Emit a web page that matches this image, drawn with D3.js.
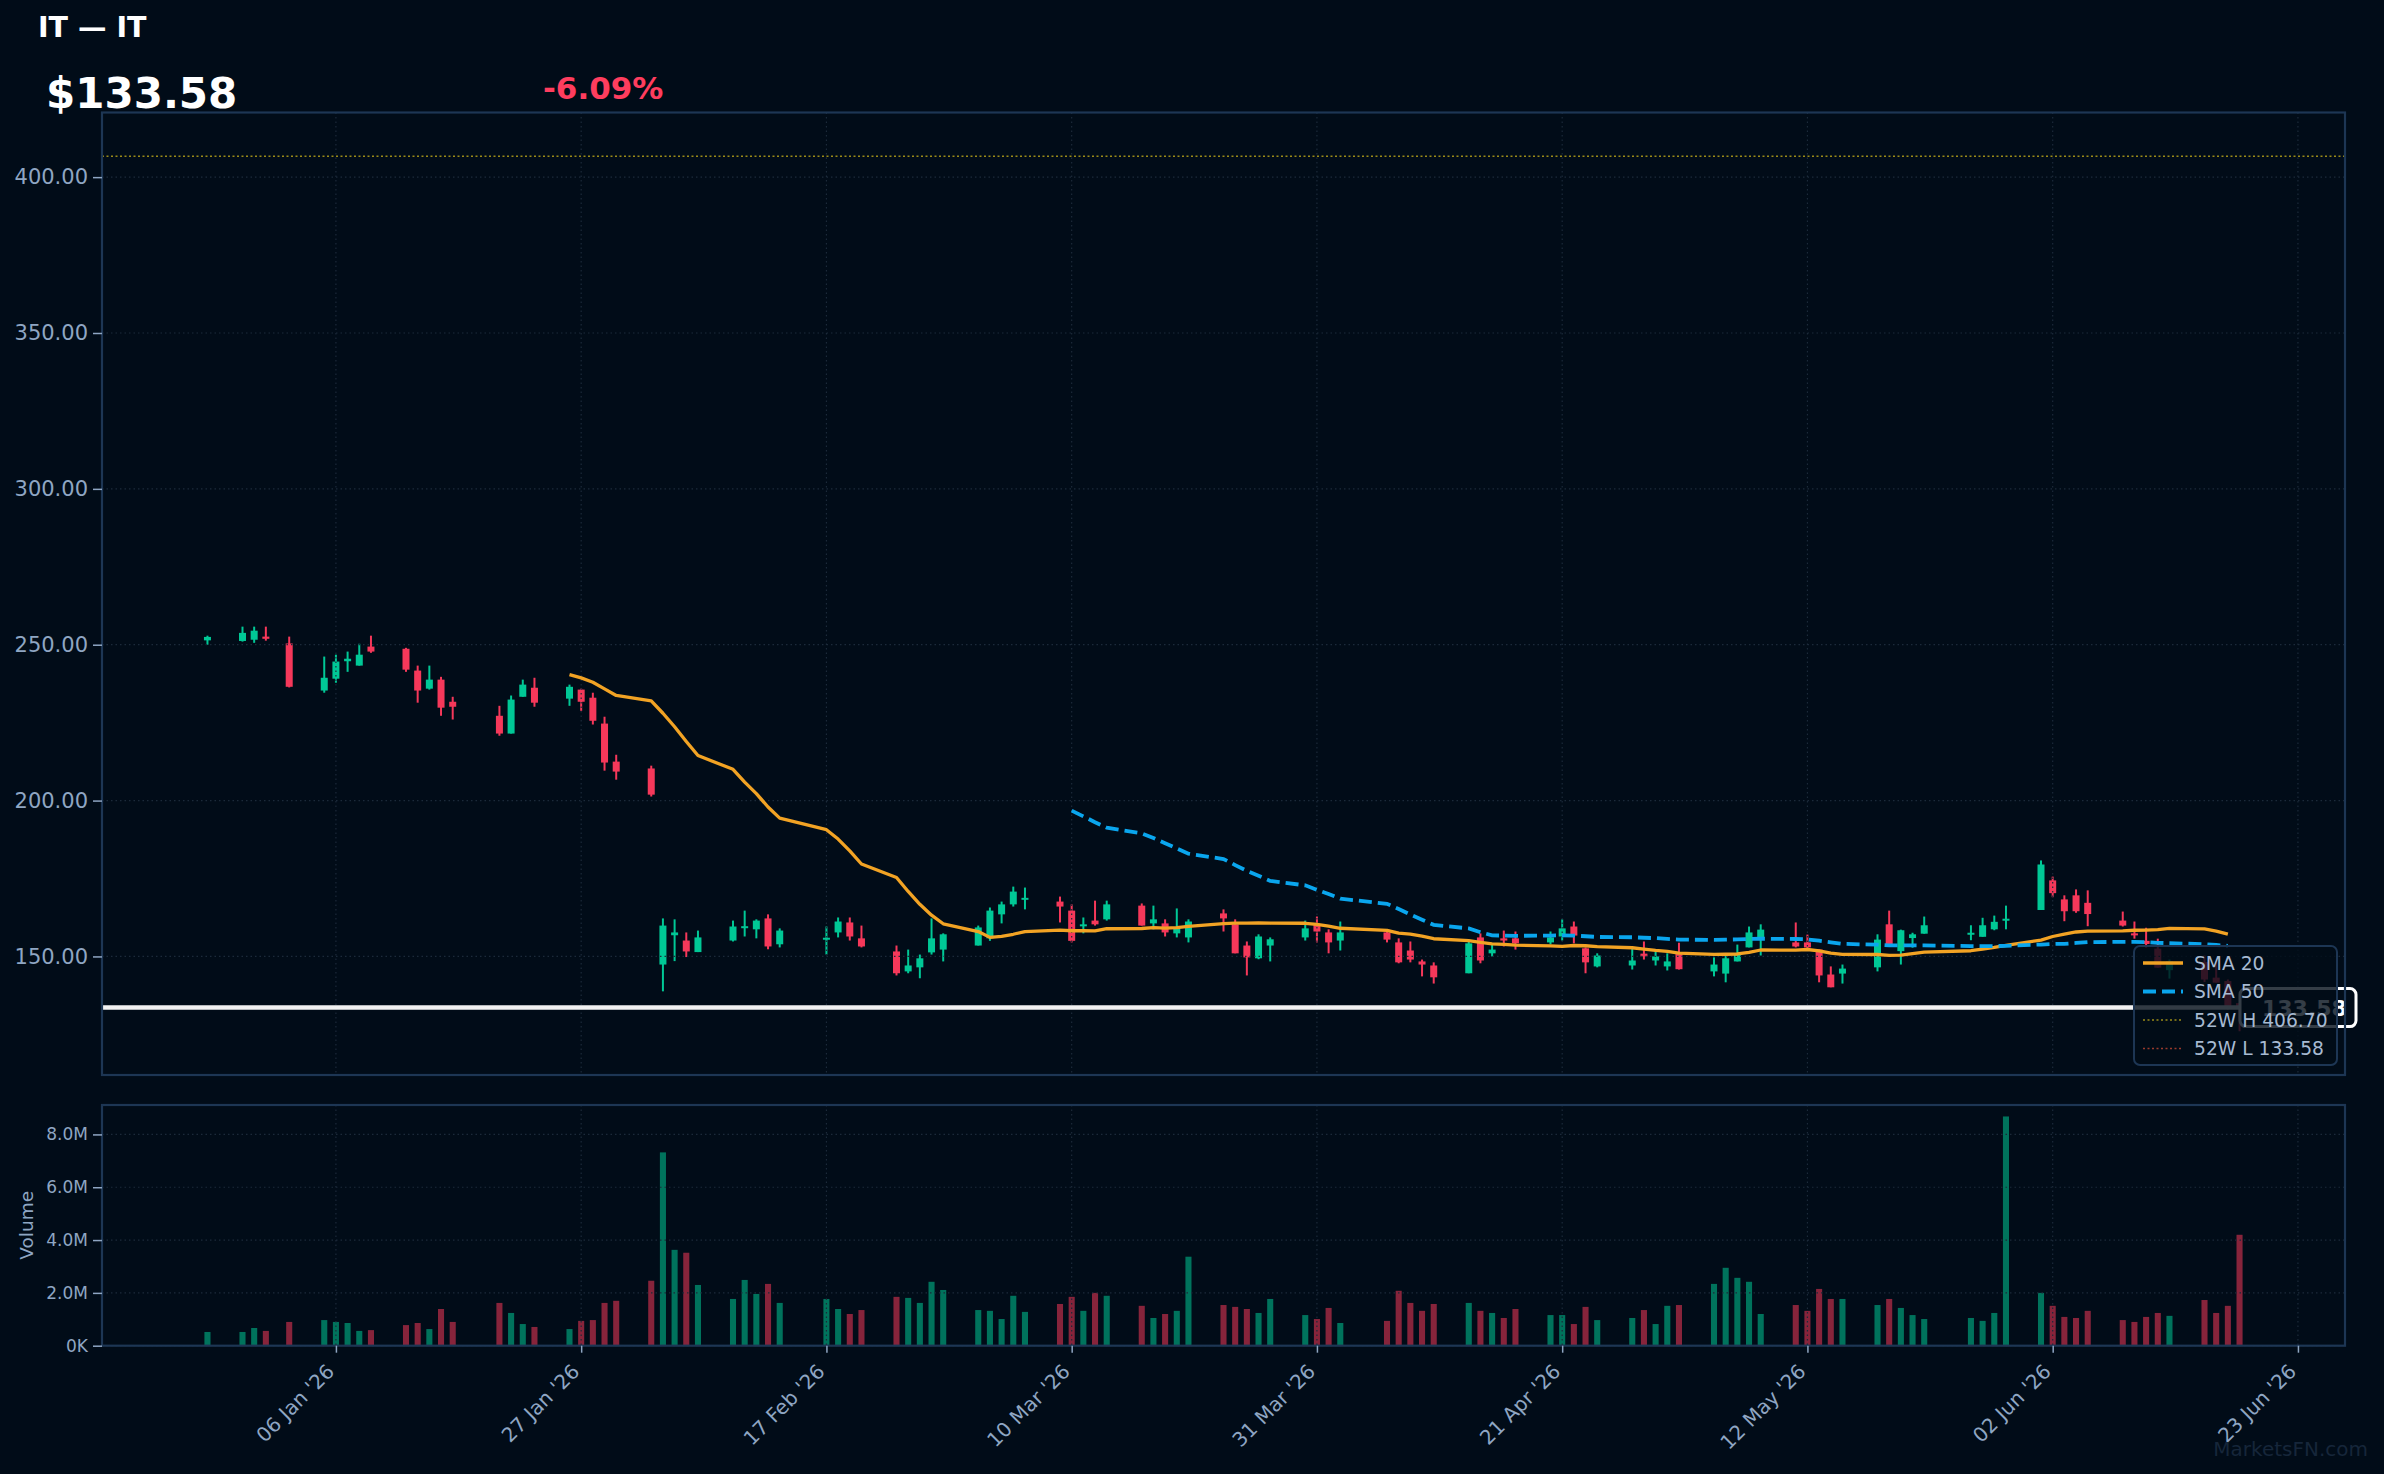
<!DOCTYPE html>
<html>
<head>
<meta charset="utf-8">
<script src="https://cdn.jsdelivr.net/npm/d3@7"></script>
<style>
    body { margin: 0; background: #010c18; }
    svg text { font-family: "DejaVu Sans", sans-serif; }
</style>
</head>
<body>
<svg id="chart" width="2384" height="1474"></svg>
<script>
// ---- data ----
const dates = ["2025-12-26","2025-12-29","2025-12-30","2025-12-31","2026-01-02",
    "2026-01-05","2026-01-06","2026-01-07","2026-01-08","2026-01-09",
    "2026-01-12","2026-01-13","2026-01-14","2026-01-15","2026-01-16",
    "2026-01-20","2026-01-21","2026-01-22","2026-01-23",
    "2026-01-26","2026-01-27","2026-01-28","2026-01-29","2026-01-30",
    "2026-02-02","2026-02-03","2026-02-04","2026-02-05","2026-02-06",
    "2026-02-09","2026-02-10","2026-02-11","2026-02-12","2026-02-13",
    "2026-02-17","2026-02-18","2026-02-19","2026-02-20",
    "2026-02-23","2026-02-24","2026-02-25","2026-02-26","2026-02-27",
    "2026-03-02","2026-03-03","2026-03-04","2026-03-05","2026-03-06",
    "2026-03-09","2026-03-10","2026-03-11","2026-03-12","2026-03-13",
    "2026-03-16","2026-03-17","2026-03-18","2026-03-19","2026-03-20",
    "2026-03-23","2026-03-24","2026-03-25","2026-03-26","2026-03-27",
    "2026-03-30","2026-03-31","2026-04-01","2026-04-02",
    "2026-04-06","2026-04-07","2026-04-08","2026-04-09","2026-04-10",
    "2026-04-13","2026-04-14","2026-04-15","2026-04-16","2026-04-17",
    "2026-04-20","2026-04-21","2026-04-22","2026-04-23","2026-04-24",
    "2026-04-27","2026-04-28","2026-04-29","2026-04-30","2026-05-01",
    "2026-05-04","2026-05-05","2026-05-06","2026-05-07","2026-05-08",
    "2026-05-11","2026-05-12","2026-05-13","2026-05-14","2026-05-15",
    "2026-05-18","2026-05-19","2026-05-20","2026-05-21","2026-05-22",
    "2026-05-26","2026-05-27","2026-05-28","2026-05-29",
    "2026-06-01","2026-06-02","2026-06-03","2026-06-04","2026-06-05",
    "2026-06-08","2026-06-09","2026-06-10","2026-06-11","2026-06-12",
    "2026-06-15","2026-06-16","2026-06-17","2026-06-18"];

const opens = [251.4,251.2,251.6,252.6,250.4, 235.3,239.1,244.7,243.3,249.4,
    248.7,241.7,235.9,238.8,231.7, 227.2,221.5,233.3,236.2, 232.7,235.6,233.0,224.7,212.5,
    210.3,147.4,156.8,155.1,151.4, 155.1,159.5,158.7,162.2,153.9, 155.7,157.7,160.9,155.8,
    151.6,145.2,146.5,151.3,152.2, 153.5,155.8,163.5,166.7,168.6, 167.6,164.7,160.0,161.5,161.9,
    166.3,160.6,160.6,157.4,156.1, 163.8,160.3,153.5,149.4,153.5, 156.1,160.3,157.7,155.1,
    157.7,154.5,151.9,148.4,147.1, 144.6,156.1,151.0,155.8,155.8, 154.5,156.4,159.6,152.6,146.8,
    147.1,150.9,148.7,146.8,151.0, 145.2,144.5,148.4,152.9,156.1, 154.5,154.5,152.2,144.2,144.5,
    146.5,160.3,151.7,155.9,157.3, 157.3,156.3,158.7,161.8, 164.9,174.4,168.3,169.6,167.2,
    161.5,157.4,155.0,152.5,145.6, 148.2,143.2,142.1,135.0];

const highs = [252.9,255.8,255.8,255.8,252.6, 246.2,246.8,247.8,250.3,252.9,
    249.0,243.3,243.3,239.7,233.3, 230.4,233.7,238.8,239.4, 237.2,235.9,234.6,226.9,214.7,
    211.2,162.2,161.9,157.7,158.3, 161.5,164.7,161.9,163.5,159.0, 159.6,162.5,162.5,159.9,
    153.5,152.2,150.6,162.2,157.4, 159.9,165.7,167.6,172.4,172.1, 169.2,166.7,162.5,167.9,167.9,
    167.0,166.3,161.9,165.4,161.9, 165.1,161.9,154.8,157.1,156.1, 161.5,162.8,158.7,161.2,
    158.3,155.8,154.8,149.0,148.1, 154.8,157.4,153.9,158.3,158.0, 158.0,161.9,161.2,152.9,151.0,
    152.9,154.8,151.9,151.0,154.4, 149.7,150.3,153.8,159.6,160.3, 160.9,157.0,152.2,146.8,147.4,
    157.1,164.7,158.6,157.6,162.8, 160.0,162.4,163.1,166.3, 180.8,175.6,169.6,171.5,171.2,
    164.4,161.2,159.2,155.7,149.0, 150.3,148.5,142.6,135.1];

const lows = [250.0,251.0,250.6,251.3,236.3, 234.6,237.8,241.3,243.3,247.4,
    241.3,231.4,235.6,227.2,226.0, 220.8,221.5,233.3,230.1, 230.4,228.8,224.4,209.6,206.7,
    201.3,138.8,148.5,149.8,151.4, 154.8,156.4,155.8,152.3,152.9, 150.6,156.1,155.1,152.9,
    143.9,144.6,143.0,150.6,148.4, 153.5,155.0,160.6,166.0,165.1, 160.9,154.5,157.4,159.9,161.5,
    159.9,158.7,156.4,156.1,154.5, 158.0,151.0,143.9,149.1,148.4, 155.1,154.5,151.0,151.9,
    154.5,147.8,148.1,143.6,141.3, 144.6,147.8,150.0,153.2,152.2, 153.9,155.1,154.2,144.6,146.5,
    145.8,149.0,147.1,145.5,145.8, 143.6,141.7,148.4,152.9,150.3, 152.9,151.9,141.7,140.1,141.3,
    145.2,153.8,147.4,152.8,157.3, 155.2,156.3,158.4,158.7, 164.9,169.0,161.3,164.0,159.7,
    159.6,155.7,152.8,146.4,142.9, 141.8,141.6,133.0,126.0];

const closes = [252.5,253.8,254.5,251.9,236.5, 239.4,244.6,245.5,246.8,247.8,
    242.0,235.3,238.8,229.8,230.1, 221.5,232.4,237.2,231.4, 236.5,231.7,225.6,212.2,209.3,
    201.9,159.9,157.7,151.6,156.1, 159.6,159.7,161.5,153.2,158.3, 156.0,161.2,156.4,153.2,
    144.6,147.1,149.4,155.8,157.1, 159.3,164.7,166.7,170.8,168.8, 166.0,155.0,160.3,160.3,166.7,
    159.9,161.9,157.7,159.0,161.2, 162.2,151.0,149.7,156.4,155.5, 159.0,158.0,154.5,157.7,
    155.4,148.1,149.0,147.4,143.3, 154.2,148.7,152.2,155.1,154.2, 156.1,159.0,156.7,148.1,150.3,
    148.7,150.0,150.0,148.4,145.9, 147.4,149.4,150.6,157.7,158.6, 153.2,152.9,143.9,140.1,146.1,
    155.4,153.9,158.4,157.1,160.0, 157.6,160.0,161.1,162.1, 179.5,170.3,164.5,164.5,163.6,
    159.9,157.2,154.0,146.4,148.5, 142.6,141.6,134.1,133.58];

// volume in millions of shares
const volumes = [0.52,0.52,0.67,0.56,0.90, 0.97,0.90,0.86,0.56,0.59,
    0.78,0.86,0.63,1.39,0.90, 1.62,1.24,0.82,0.71, 0.63,0.94,0.97,1.62,1.70,
    2.46,7.32,3.63,3.52,2.30, 1.77,2.49,1.96,2.34,1.62, 1.77,1.39,1.20,1.35,
    1.85,1.81,1.62,2.42,2.11, 1.35,1.32,1.01,1.89,1.28, 1.58,1.85,1.32,2.00,1.89,
    1.51,1.05,1.20,1.32,3.37, 1.54,1.47,1.39,1.24,1.77, 1.16,1.01,1.43,0.86,
    0.94,2.08,1.62,1.32,1.58, 1.62,1.32,1.24,1.05,1.39, 1.16,1.16,0.82,1.47,0.97,
    1.05,1.35,0.82,1.51,1.54, 2.34,2.95,2.57,2.42,1.20, 1.54,1.32,2.15,1.77,1.77,
    1.54,1.77,1.43,1.16,1.01, 1.05,0.94,1.24,8.68, 2.00,1.51,1.09,1.05,1.32,
    0.97,0.90,1.09,1.24,1.13, 1.73,1.24,1.51,4.20];

const xTickDates = ["2026-01-06","2026-01-27","2026-02-17","2026-03-10","2026-03-31",
    "2026-04-21","2026-05-12","2026-06-02","2026-06-23"];
const priceTicks = [150, 200, 250, 300, 350, 400];
const volumeTicks = [0, 2, 4, 6, 8];

const ticker = "IT";
const lastPrice = 133.58;
const changePct = -6.09;
const high52 = 406.70;
const low52 = 133.58;

// ---- layout / style ----
const BG = "#010c18";
const UP = "#00c896";
const DOWN = "#f5385a";
const AXIS_TXT = "#8fa6c3";
const SPINE = "#1d3654";
const GRID = "#1c2a3a";
const main = { left: 102, right: 2345, top: 112.5, bottom: 1075 };
const vol = { left: 102, right: 2345, top: 1105, bottom: 1345.7 };

const parse = d3.utcParse("%Y-%m-%d");
const DAY = 864e5;

const rows = dates.map((d, i) => ({
    date: parse(d), open: opens[i], high: highs[i], low: lows[i],
    close: closes[i], vol: volumes[i]
}));

// simple moving averages of the closes
function sma(period) {
    return closes.map((c, i) => i < period - 1 ? null
        : d3.mean(closes.slice(i - period + 1, i + 1)));
}
const sma20 = sma(20);
const sma50 = sma(50);

// ---- scales ----
const t0 = +rows[0].date - 0.3 * DAY;
const t1 = +rows[rows.length - 1].date + 0.3 * DAY;
const padX = (t1 - t0) * 0.05;
const x = d3.scaleUtc()
    .domain([t0 - padX, t1 + padX])
    .range([main.left, main.right]);

const lo = Math.min(d3.min(lows), low52);
const hi = Math.max(d3.max(highs), high52);
const padY = (hi - lo) * 0.05;
const y = d3.scaleLinear()
    .domain([lo - padY, hi + padY])
    .range([main.bottom, main.top]);

const yv = d3.scaleLinear()
    .domain([0, d3.max(volumes) * 1.05])
    .range([vol.bottom, vol.top]);

const pxPerDay = DAY * (x.range()[1] - x.range()[0]) / (x.domain()[1] - x.domain()[0]);
const bodyW = 0.6 * pxPerDay;
const volW = 0.52 * pxPerDay;

const svg = d3.select("#chart");
svg.append("rect").attr("width", 2384).attr("height", 1474).attr("fill", BG);

// ---- grids ----
function grid(g, panel, yScale, ticks) {
    g.selectAll(".hg").data(ticks).join("line")
        .attr("x1", panel.left).attr("x2", panel.right)
        .attr("y1", d => yScale(d)).attr("y2", d => yScale(d))
        .attr("stroke", GRID).attr("stroke-width", 1.2).attr("stroke-dasharray", "1.5,3");
    g.selectAll(".vg").data(xTickDates.map(parse)).join("line")
        .attr("x1", d => x(d)).attr("x2", d => x(d))
        .attr("y1", panel.top).attr("y2", panel.bottom)
        .attr("stroke", GRID).attr("stroke-width", 1.2).attr("stroke-dasharray", "1.5,3");
}

// volume panel
const gv = svg.append("g");
gv.selectAll("rect.v").data(rows).join("rect")
    .attr("x", d => x(d.date) - volW / 2)
    .attr("width", volW)
    .attr("y", d => yv(d.vol))
    .attr("height", d => yv(0) - yv(d.vol))
    .attr("fill", d => d.close >= d.open ? UP : DOWN)
    .attr("fill-opacity", 0.55);
grid(gv.append("g"), vol, yv, volumeTicks);

// ---- candles ----
const gc = svg.append("g");
gc.selectAll("line.wick").data(rows).join("line")
    .attr("x1", d => x(d.date)).attr("x2", d => x(d.date))
    .attr("y1", d => y(d.high)).attr("y2", d => y(d.low))
    .attr("stroke", d => d.close >= d.open ? UP : DOWN)
    .attr("stroke-width", 2);
gc.selectAll("rect.body").data(rows).join("rect")
    .attr("x", d => x(d.date) - bodyW / 2)
    .attr("width", bodyW)
    .attr("y", d => y(Math.max(d.open, d.close)))
    .attr("height", d => Math.max(2, Math.abs(y(d.open) - y(d.close))))
    .attr("fill", d => d.close >= d.open ? UP : DOWN);
grid(svg.append("g"), main, y, priceTicks);

// ---- moving averages (drawn up to the previous session) ----
const lastIdx = rows.length - 2;
const maLine = arr => d3.line()
    .defined((d, i) => arr[i] !== null && i <= lastIdx)
    .x(d => x(d.date))
    .y((d, i) => y(arr[i]));

svg.append("path").datum(rows)
    .attr("d", maLine(sma20))
    .attr("fill", "none").attr("stroke", "#f2a324").attr("stroke-width", 3.3)
    .attr("stroke-linejoin", "round");
svg.append("path").datum(rows)
    .attr("d", maLine(sma50))
    .attr("fill", "none").attr("stroke", "#0aa6ee").attr("stroke-width", 3.8)
    .attr("stroke-dasharray", "13,6");

// 52 week lines
svg.append("line")
    .attr("x1", main.left).attr("x2", main.right)
    .attr("y1", y(high52)).attr("y2", y(high52))
    .attr("stroke", "#9a8a18").attr("stroke-width", 1.6).attr("stroke-dasharray", "2,2.5");
svg.append("line")
    .attr("x1", main.left).attr("x2", main.right)
    .attr("y1", y(low52)).attr("y2", y(low52))
    .attr("stroke", "#9a3a2c").attr("stroke-width", 1.6).attr("stroke-dasharray", "2,2.5");

// last price line
svg.append("line")
    .attr("x1", main.left).attr("x2", main.right)
    .attr("y1", y(lastPrice)).attr("y2", y(lastPrice))
    .attr("stroke", "#f2f2f2").attr("stroke-width", 4.5);

// last price tag on the right
const tag = svg.append("g");
tag.append("rect")
    .attr("x", 2240).attr("y", y(lastPrice) - 19)
    .attr("width", 116).attr("height", 38).attr("rx", 6)
    .attr("fill", BG).attr("stroke", "#ffffff").attr("stroke-width", 3);
tag.append("text")
    .attr("x", 2262).attr("y", y(lastPrice) + 8)
    .attr("fill", "#ffffff").attr("font-size", 22).attr("font-weight", "bold")
    .text(lastPrice.toFixed(2));

// ---- panel frames ----
[main, vol].forEach(p => {
    svg.append("rect")
        .attr("x", p.left).attr("y", p.top)
        .attr("width", p.right - p.left).attr("height", p.bottom - p.top)
        .attr("fill", "none").attr("stroke", SPINE).attr("stroke-width", 2.2);
});

// ---- axes ----
function styleAxis(g, size) {
    g.select(".domain").remove();
    g.selectAll("line").attr("stroke", AXIS_TXT).attr("stroke-width", 1.5);
    g.selectAll("text").attr("fill", AXIS_TXT).attr("font-size", size)
        .attr("font-family", "DejaVu Sans");
}

svg.append("g")
    .attr("transform", `translate(${main.left},0)`)
    .call(d3.axisLeft(y).tickValues(priceTicks).tickFormat(d3.format(".2f"))
        .tickSize(9).tickPadding(5))
    .call(g => styleAxis(g, 21));

svg.append("g")
    .attr("transform", `translate(${vol.left},0)`)
    .call(d3.axisLeft(yv).tickValues(volumeTicks)
        .tickFormat(d => d === 0 ? "0K" : d.toFixed(1) + "M")
        .tickSize(9).tickPadding(5))
    .call(g => styleAxis(g, 17));

const fmtDate = d3.utcFormat("%d %b '%y");
svg.append("g")
    .attr("transform", `translate(0,${vol.bottom})`)
    .call(d3.axisBottom(x).tickValues(xTickDates.map(parse)).tickFormat(fmtDate)
        .tickSize(7))
    .call(g => styleAxis(g, 20))
    .call(g => g.selectAll("text")
        .attr("x", 0).attr("y", 0).attr("dy", null)
        .attr("text-anchor", "end")
        .attr("transform", "translate(-1,27) rotate(-45)"));

svg.append("text")
    .attr("transform", `translate(33,${(vol.top + vol.bottom) / 2}) rotate(-90)`)
    .attr("text-anchor", "middle")
    .attr("fill", AXIS_TXT).attr("font-size", 18.5)
    .text("Volume");

// ---- legend ----
const legendItems = [
    { label: "SMA 20", color: "#f2a324", width: 3.3, dash: null },
    { label: "SMA 50", color: "#0aa6ee", width: 3.8, dash: "13,6" },
    { label: `52W H ${high52.toFixed(2)}`, color: "#9a8a18", width: 1.6, dash: "2,2.5" },
    { label: `52W L ${low52.toFixed(2)}`, color: "#9a3a2c", width: 1.6, dash: "2,2.5" }
];
const lg = svg.append("g").attr("transform", "translate(2134,946)");
lg.append("rect")
    .attr("width", 203).attr("height", 119).attr("rx", 6)
    .attr("fill", BG).attr("fill-opacity", 0.8)
    .attr("stroke", SPINE).attr("stroke-width", 2);
const li = lg.selectAll("g.item").data(legendItems).join("g")
    .attr("transform", (d, i) => `translate(0,${17 + i * 28.5})`);
li.append("line")
    .attr("x1", 9).attr("x2", 49)
    .attr("stroke", d => d.color).attr("stroke-width", d => d.width)
    .attr("stroke-dasharray", d => d.dash);
li.append("text")
    .attr("x", 60).attr("y", 6.5)
    .attr("fill", "#a7bad2").attr("font-size", 18.7)
    .text(d => d.label);

// ---- header ----
svg.append("text")
    .attr("x", 38).attr("y", 37)
    .attr("fill", "#ffffff").attr("font-size", 28.5).attr("font-weight", "bold")
    .text(`${ticker} \u2014 ${ticker}`);
svg.append("text")
    .attr("x", 46).attr("y", 108)
    .attr("fill", "#ffffff").attr("font-size", 42).attr("font-weight", "bold")
    .text(`$${lastPrice.toFixed(2)}`);
svg.append("text")
    .attr("x", 543).attr("y", 99)
    .attr("fill", "#ff3d5e").attr("font-size", 31).attr("font-weight", "bold")
    .text(`${changePct.toFixed(2)}%`);

// watermark
svg.append("text")
    .attr("x", 2368).attr("y", 1456)
    .attr("text-anchor", "end")
    .attr("fill", "#16263a").attr("font-size", 20)
    .text("MarketsFN.com");
</script>
</body>
</html>
